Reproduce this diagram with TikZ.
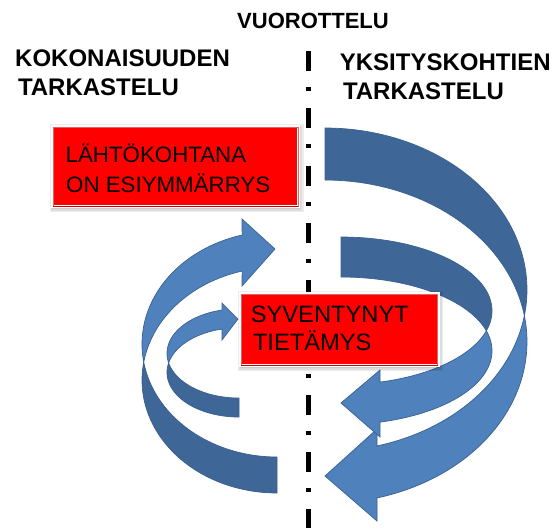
\documentclass[tikz,border=0pt]{standalone}
\usepackage{fontspec}
\setmainfont{Liberation Sans}
\definecolor{arrlight}{HTML}{4F81BD}
\definecolor{arrdark}{HTML}{3E6697}
\definecolor{arrline}{HTML}{3A6091}
\definecolor{boxred}{HTML}{FF0000}
\definecolor{boxedge}{HTML}{C80000}
\begin{document}
\begin{tikzpicture}[x=1pt,y=-1pt,
  head/.style={font=\fontsize{24}{28}\selectfont\bfseries, inner sep=0pt, anchor=base west},
  toptitle/.style={font=\fontsize{22}{26}\selectfont\bfseries, inner sep=0pt, anchor=base west},
  boxtext/.style={font=\fontsize{22.3}{26}\selectfont, inner sep=0pt, anchor=base west},
  boxtextb/.style={font=\fontsize{23.7}{28}\selectfont, inner sep=0pt, anchor=base west},
  darkpart/.style={fill=arrdark, draw=arrline, line width=0.7pt, line join=round},
  lightpart/.style={fill=arrlight, draw=arrline, line width=0.7pt, line join=miter},
  redbox/.style={rectangle, fill=boxred, draw=white, line width=3pt, inner sep=0pt},
  boxshadow/.style={rectangle, fill=black, opacity=0.07, inner sep=0pt, draw=none},
  divider/.style={line width=5pt, dash pattern=on 20pt off 16pt on 4pt off 17.3pt},
  pl/.style={samples=60, variable=\t}
]
\useasboundingbox[fill=white] (0,0) rectangle (557,528);

% divider line
\coordinate (ltop) at (308.5,51);
\coordinate (lbot) at (308.5,528);
\draw[divider] (ltop) -- (lbot);

% headings
\node[toptitle] (vuor) at (237,28.3) {VUOROTTELU};
\node[head] (kok1) at (15,66.7) {KOKONAISUUDEN};
\node[head] (kok2) at (17.8,95) {TARKASTELU};
\node[head] (yks1) at (339.7,70) {YKSITYSKOHTIEN};
\node[head] (yks2) at (342.8,99.3) {TARKASTELU};

% big right arrow
\filldraw[darkpart] plot[pl,domain=-90:9.25] ({325+202*cos(\t)},{289.7+161.7*sin(\t)})
  -- plot[pl,domain=-9.25:-90] ({325+202*cos(\t)},{341.7+161.7*sin(\t)}) -- cycle;
\filldraw[lightpart] plot[pl,domain=-9.25:75.08] ({325+202*cos(\t)},{341.7+161.7*sin(\t)})
  -- (377,521) -- (325,476) -- (377,429)
  -- plot[pl,domain=75.08:9.25] ({325+202*cos(\t)},{289.7+161.7*sin(\t)}) -- cycle;

% small right arrow
\filldraw[darkpart] plot[pl,domain=-90:15.72] ({341+151*cos(\t)},{310.8+73.8*sin(\t)})
  -- plot[pl,domain=-15.72:-90] ({341+151*cos(\t)},{350.8+73.8*sin(\t)}) -- cycle;
\filldraw[lightpart] plot[pl,domain=-15.72:75.03] ({341+151*cos(\t)},{350.8+73.8*sin(\t)})
  -- (380,437) -- (341,403) -- (380,370)
  -- plot[pl,domain=75.03:15.72] ({341+151*cos(\t)},{310.8+73.8*sin(\t)}) -- cycle;

% big left arrow
\filldraw[darkpart] plot[pl,domain=90:189.17] ({277+135*cos(\t)},{380.1+112.9*sin(\t)})
  -- plot[pl,domain=170.83:90] ({277+135*cos(\t)},{344.1+112.9*sin(\t)}) -- cycle;
\filldraw[lightpart] plot[pl,domain=170.83:255.03] ({277+135*cos(\t)},{344.1+112.9*sin(\t)})
  -- (242,219) -- (275,249) -- (242,286)
  -- plot[pl,domain=255.03:189.17] ({277+135*cos(\t)},{380.1+112.9*sin(\t)}) -- cycle;

% small left arrow
\filldraw[darkpart] plot[pl,domain=90:192.29] ({239+72*cos(\t)},{372.4+44.63*sin(\t)})
  -- plot[pl,domain=167.71:90] ({239+72*cos(\t)},{353.4+44.63*sin(\t)}) -- cycle;
\filldraw[lightpart] plot[pl,domain=167.71:256.34] ({239+72*cos(\t)},{353.4+44.63*sin(\t)})
  -- (222,303) -- (238,319) -- (222,340)
  -- plot[pl,domain=256.34:192.29] ({239+72*cos(\t)},{372.4+44.63*sin(\t)}) -- cycle;

% box 1
\node[boxshadow, minimum width=254pt, minimum height=88pt] (s1a) at (176.5,168) {};
\node[boxshadow, minimum width=251pt, minimum height=85pt] (s1b) at (176.5,168) {};
\node[boxshadow, minimum width=248pt, minimum height=82pt] (s1c) at (176,167.5) {};
\node[redbox, minimum width=246pt, minimum height=80pt] (box1) at (175.5,166.5) {};
\draw[boxedge, line width=0.6pt, opacity=0.6] ([xshift=1.8pt,yshift=1.8pt]box1.south west) rectangle ([xshift=-1.8pt,yshift=-1.8pt]box1.north east);
\draw[boxedge, line width=1pt] ([xshift=2pt,yshift=2pt]box1.south west) -- ([xshift=-2pt,yshift=2pt]box1.south east);
\node[boxtext] (b1l1) at (65.5,162) {LÄHTÖKOHTANA};
\node[boxtext] (b1l2) at (66,192) {ON ESIYMMÄRRYS};

% box 2
\node[boxshadow, minimum width=205.5pt, minimum height=80pt] (s2a) at (340.25,331) {};
\node[boxshadow, minimum width=202.5pt, minimum height=77pt] (s2b) at (340.25,331) {};
\node[boxshadow, minimum width=199.5pt, minimum height=74pt] (s2c) at (339.75,330.5) {};
\node[redbox, minimum width=197.5pt, minimum height=72pt] (box2) at (339.25,329.5) {};
\draw[boxedge, line width=0.6pt, opacity=0.6] ([xshift=1.8pt,yshift=1.8pt]box2.south west) rectangle ([xshift=-1.8pt,yshift=-1.8pt]box2.north east);
\draw[boxedge, line width=1pt] ([xshift=2pt,yshift=2pt]box2.south west) -- ([xshift=-2pt,yshift=2pt]box2.south east);
\node[boxtextb] (b2l1) at (250.6,322.3) {SYVENTYNYT};
\node[boxtextb] (b2l2) at (252.8,350) {TIETÄMYS};
\end{tikzpicture}
\end{document}
